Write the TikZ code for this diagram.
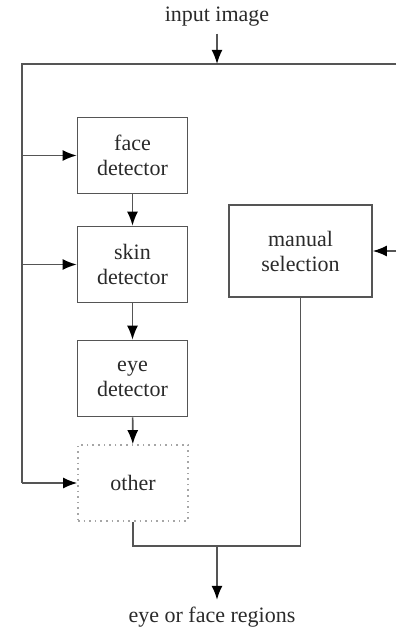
\documentclass[tikz,border=0pt]{standalone}
\usepackage{fontspec}
\setmainfont{Liberation Serif}
\usetikzlibrary{arrows.meta}
\definecolor{linegray}{HTML}{555555}
\definecolor{textgray}{HTML}{2A2A2A}

\begin{document}
\begin{tikzpicture}[x=0.5pt,y=-0.5pt,>={Latex[length=7pt,width=5.5pt,color=black]},
  every node/.style={font=\fontsize{11}{12.5}\selectfont,text=textgray,align=center},
  flow/.style={draw=linegray,line width=0.8pt},
  stage/.style={draw=linegray,line width=0.8pt,minimum width=55pt,minimum height=38pt,inner sep=0pt},
  spare/.style={stage,draw=gray!70,dotted}]
  \useasboundingbox (0,0) rectangle (396,631);
  % outer frame
  \node (inp) at (217,17) {input image};
  \coordinate (tl) at (22,64);
  \coordinate (tr) at (396,64);
  \coordinate (bl) at (22,483);
  % detectors
  \node[stage] (face) at (132.5,155.5) {face\\detector};
  \node[stage] (skin) at (132.5,264.5) {skin\\detector};
  \node[stage] (eye) at (132.5,378.5) {eye\\detector};
  \node[spare] (oth) at (133,483) {other};
  \node[stage,minimum width=71.5pt,minimum height=46pt] (man) at (300.5,251) {manual\\selection};
  % output
  \coordinate (join) at (217,546);
  \node (out) at (212,617) {eye or face regions};

  \draw[flow] (tr) -- (tl) -- (bl);
  \draw[flow,->] (inp) -- (inp |- tl);
  \draw[flow,->] (face.west -| tl) -- (face.west);
  \draw[flow,->] (skin.west -| tl) -- (skin.west);
  \draw[flow,->] (bl) -- (oth.west);
  \draw[flow,->] (face) -- (skin);
  \draw[flow,->] (skin) -- (eye);
  \draw[flow,->] (eye) -- (oth);
  \draw[flow,->] (man.east -| tr) -- (man.east);
  \draw[flow] (man.south) -- (man.south |- join) -- (oth.south |- join) -- (oth.south);
  \draw[flow,->] (join) -- (join |- out.north);
\end{tikzpicture}
\end{document}
